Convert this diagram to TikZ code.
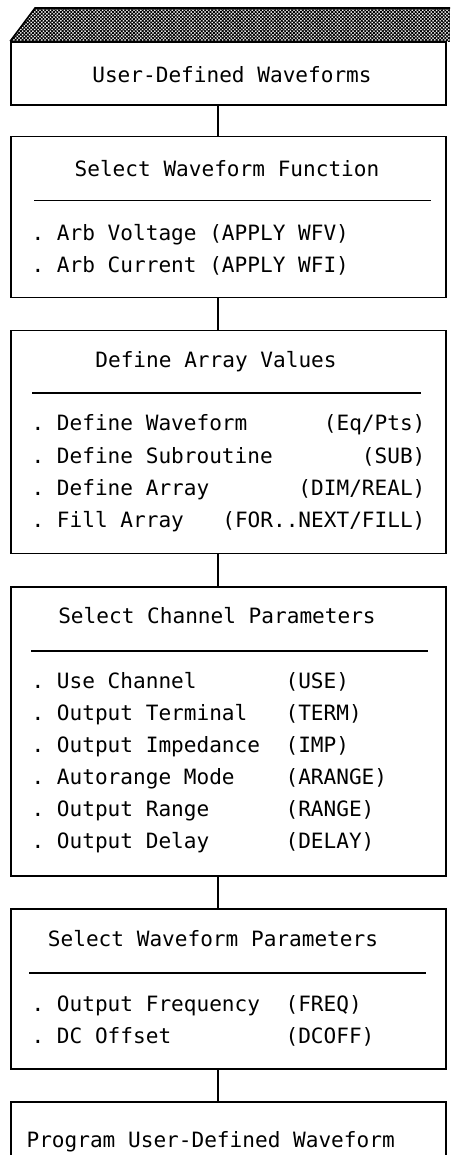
\documentclass[tikz,border=0pt]{standalone}
\usepackage{fontspec}
\setmonofont{DejaVu Sans Mono}
\usepackage{tikz}
\usetikzlibrary{positioning,calc,patterns.meta}

\begin{document}
\begin{tikzpicture}[
  node distance=0.63cm,
  font=\ttfamily\fontsize{12}{14}\selectfont,
  box/.style={draw,line width=0.9pt,minimum width=8.7cm,inner sep=0pt},
  title/.style={inner sep=0pt,anchor=mid},
  item/.style={inner sep=0pt,anchor=mid west},
  itemr/.style={inner sep=0pt,anchor=mid east},
  rule/.style={line width=0.8pt},
  link/.style={line width=0.9pt}
]
\useasboundingbox (0,0) rectangle (9,-23.1);
\node[box,minimum height=1.26cm]                  (user)  at (4.57,-1.47) {};
\node[box,minimum height=3.22cm,below=0.6cm of user] (func)  {};
\node[box,minimum height=4.46cm,below=of func]    (array) {};
\node[box,minimum height=5.78cm,below=of array]   (chan)  {};
\node[box,minimum height=3.20cm,below=of chan]    (wave)  {};
\node[box,minimum height=1.60cm,below=of wave]    (prog)  {};
\fill[pattern={Hatch[angle=45,distance=1.4pt,line width=0.5pt]}]
  (user.north west) -- (0.70,-0.16) -- (9,-0.16) -- (9,-0.84) -- cycle;
\draw[link] (user.north west) -- (0.70,-0.16) -- (9,-0.16);
\draw[link] ([xshift=-0.21cm]user.south)  -- ([xshift=-0.21cm]func.north);
\draw[link] ([xshift=-0.21cm]func.south)  -- ([xshift=-0.21cm]array.north);
\draw[link] ([xshift=-0.21cm]array.south) -- ([xshift=-0.21cm]chan.north);
\draw[link] ([xshift=-0.21cm]chan.south)  -- ([xshift=-0.21cm]wave.north);
\draw[link] ([xshift=-0.21cm]wave.south)  -- ([xshift=-0.21cm]prog.north);

\node[title] (userT) at ($(user.north)+(0.07,-0.76)$) {User-Defined Waveforms};

\node[title] (funcT) at ($(func.north)+(-0.03,-0.74)$) {Select Waveform Function};
\draw[rule] ($(func.north west)+(0.48,-1.30)$) -- ($(func.north east)+(-0.32,-1.30)$);
\node[item] (funcA) at ($(func.north west)+(0.42,-2.02)$) {. Arb Voltage (APPLY WFV)};
\node[item] (funcB) at ($(func.north west)+(0.42,-2.66)$) {. Arb Current (APPLY WFI)};

\node[title] (arrayT) at ($(array.north)+(-0.25,-0.68)$) {Define Array Values};
\draw[rule] ($(array.north west)+(0.44,-1.26)$) -- ($(array.north east)+(-0.52,-1.26)$);
\node[item]  (arrayA)  at ($(array.north west)+(0.42,-1.94)$) {. Define Waveform};
\node[itemr] (arrayAc) at ($(array.north east)+(-0.42,-1.94)$) {(Eq/Pts)};
\node[item]  (arrayB)  at ($(array.north west)+(0.42,-2.59)$) {. Define Subroutine};
\node[itemr] (arrayBc) at ($(array.north east)+(-0.42,-2.59)$) {(SUB)};
\node[item]  (arrayC)  at ($(array.north west)+(0.42,-3.24)$) {. Define Array};
\node[itemr] (arrayCc) at ($(array.north east)+(-0.42,-3.24)$) {(DIM/REAL)};
\node[item]  (arrayD)  at ($(array.north west)+(0.42,-3.88)$) {. Fill Array};
\node[itemr] (arrayDc) at ($(array.north east)+(-0.42,-3.88)$) {(FOR..NEXT/FILL)};

\node[title] (chanT) at ($(chan.north)+(-0.23,-0.68)$) {Select Channel Parameters};
\draw[rule] ($(chan.north west)+(0.42,-1.30)$) -- ($(chan.north east)+(-0.38,-1.30)$);
\node[item] (chanA)  at ($(chan.north west)+(0.42,-1.98)$) {. Use Channel};
\node[item] (chanAc) at ($(chan.north west)+(5.50,-1.98)$) {(USE)};
\node[item] (chanB)  at ($(chan.north west)+(0.42,-2.62)$) {. Output Terminal};
\node[item] (chanBc) at ($(chan.north west)+(5.50,-2.62)$) {(TERM)};
\node[item] (chanC)  at ($(chan.north west)+(0.42,-3.26)$) {. Output Impedance};
\node[item] (chanCc) at ($(chan.north west)+(5.50,-3.26)$) {(IMP)};
\node[item] (chanD)  at ($(chan.north west)+(0.42,-3.90)$) {. Autorange Mode};
\node[item] (chanDc) at ($(chan.north west)+(5.50,-3.90)$) {(ARANGE)};
\node[item] (chanE)  at ($(chan.north west)+(0.42,-4.54)$) {. Output Range};
\node[item] (chanEc) at ($(chan.north west)+(5.50,-4.54)$) {(RANGE)};
\node[item] (chanF)  at ($(chan.north west)+(0.42,-5.18)$) {. Output Delay};
\node[item] (chanFc) at ($(chan.north west)+(5.50,-5.18)$) {(DELAY)};

\node[title] (waveT) at ($(wave.north)+(-0.31,-0.70)$) {Select Waveform Parameters};
\draw[rule] ($(wave.north west)+(0.38,-1.30)$) -- ($(wave.north east)+(-0.42,-1.30)$);
\node[item] (waveA)  at ($(wave.north west)+(0.42,-2.00)$) {. Output Frequency};
\node[item] (waveAc) at ($(wave.north west)+(5.50,-2.00)$) {(FREQ)};
\node[item] (waveB)  at ($(wave.north west)+(0.42,-2.64)$) {. DC Offset};
\node[item] (waveBc) at ($(wave.north west)+(5.50,-2.64)$) {(DCOFF)};

\node[item] (progT) at ($(prog.north west)+(0.32,-0.86)$) {Program User-Defined Waveform};
\end{tikzpicture}
\end{document}
